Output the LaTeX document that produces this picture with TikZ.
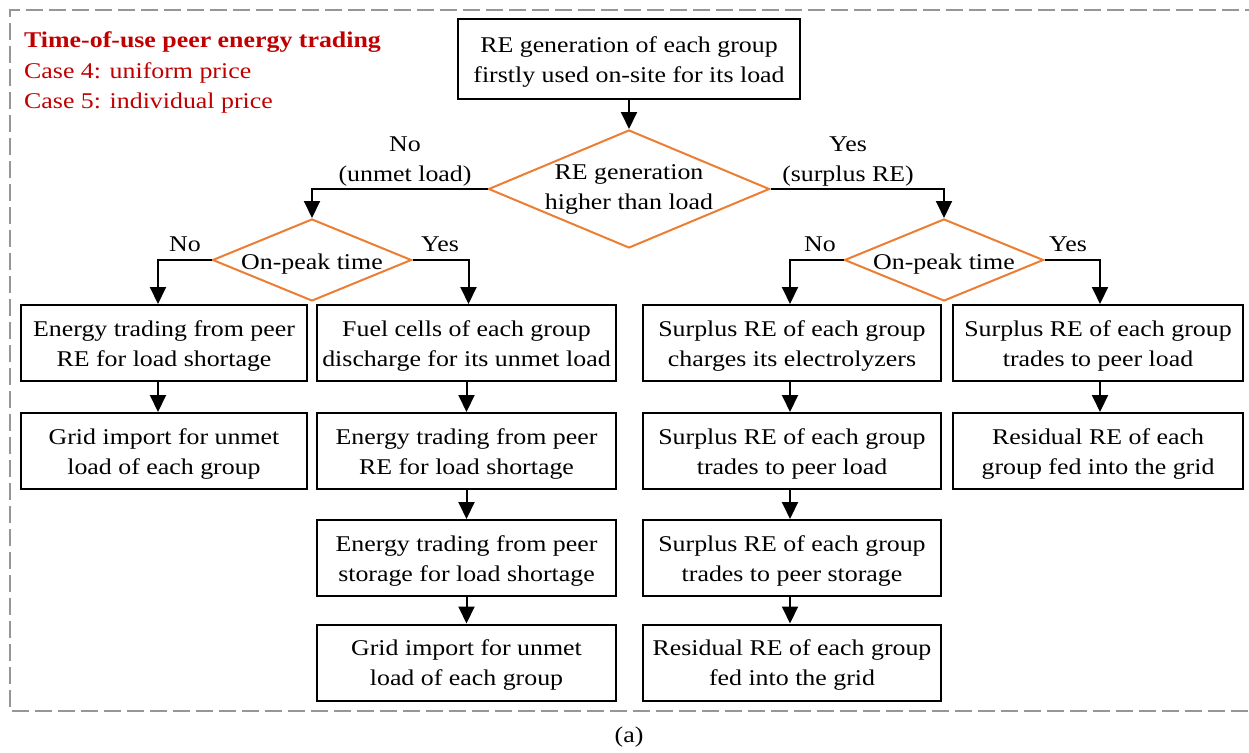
\documentclass[tikz,border=0pt]{standalone}
\usepackage{fontspec}
\setmainfont{Liberation Serif}[FakeStretch=1.15]
\usetikzlibrary{arrows.meta,shapes.geometric}
\definecolor{flowor}{HTML}{ED7D31}
\definecolor{capred}{HTML}{C00000}
\definecolor{framegray}{RGB}{150,150,150}
\newcommand\flowfont{\fontsize{22.5}{30}\selectfont}
\begin{document}
\begin{tikzpicture}[x=1pt,y=-1pt,
  every node/.style={font=\flowfont},
  proc/.style={draw=black, line width=2pt, rectangle, align=center, inner sep=0pt, minimum height=76pt,
    text height=52pt, text depth=6pt},
  colA/.style={proc, minimum width=286pt},
  colB/.style={proc, minimum width=299pt},
  colC/.style={proc, minimum width=298pt},
  colD/.style={proc, minimum width=290pt},
  dec/.style={draw=flowor, line width=2pt, diamond, inner sep=0pt, minimum width=199pt, minimum height=82pt},
  lbl/.style={inner sep=0pt, align=center},
  note/.style={inner sep=0pt, anchor=base west, text=capred},
  arr/.style={line width=2pt, -{Triangle[length=17pt,width=16pt]}},
]
\useasboundingbox (0,0) rectangle (1249,752);

% dashed frame, open at the right
\draw[framegray, line width=2pt, dash pattern=on 17pt off 6pt]
  (1262,10) -- (10,10) -- (10,711) -- (1262,711);

% legend
\node[note, font=\flowfont\bfseries] (t1) at (24,48) {Time-of-use peer energy trading};
\node[note] (t2) at (24,78) {Case 4: uniform price};
\node[note] (t3) at (24,108) {Case 5: individual price};

% start box and decisions
\node[proc, minimum width=342pt, minimum height=80pt] (top) at (629,59)
  {RE generation of each group\\firstly used on-site for its load};
\node[dec, minimum width=281pt, minimum height=118pt] (d1) at (629,189) {};
\node[lbl] (d1t) at (629,189) {RE generation\\higher than load};
\node[dec] (d2) at (312,260) {};
\node[lbl] (d2t) at (312,264) {On-peak time};
\node[dec] (d3) at (944,260) {};
\node[lbl] (d3t) at (944,264) {On-peak time};

% column 1: unmet load, off-peak
\node[colA] (b11) at (164,343) {Energy trading from peer\\RE for load shortage};
\node[colA] (b12) at (164,451) {Grid import for unmet\\load of each group};

% column 2: unmet load, on-peak
\node[colB] (b21) at (466.5,343) {Fuel cells of each group\\discharge for its unmet load};
\node[colB] (b22) at (466.5,451) {Energy trading from peer\\RE for load shortage};
\node[colB] (b23) at (466.5,558) {Energy trading from peer\\storage for load shortage};
\node[colB] (b24) at (466.5,662.5) {Grid import for unmet\\load of each group};

% column 3: surplus RE, off-peak
\node[colC] (b31) at (792,343) {Surplus RE of each group\\charges its electrolyzers};
\node[colC] (b32) at (792,451) {Surplus RE of each group\\trades to peer load};
\node[colC] (b33) at (792,558) {Surplus RE of each group\\trades to peer storage};
\node[colC] (b34) at (792,662.5) {Residual RE of each group\\fed into the grid};

% column 4: surplus RE, on-peak
\node[colD] (b41) at (1098,343) {Surplus RE of each group\\trades to peer load};
\node[colD] (b42) at (1098,451) {Residual RE of each\\group fed into the grid};

% branch labels
\node[lbl] (noA) at (405,162) {No\\(unmet load)};
\node[lbl] (yesA) at (848,162) {Yes\\(surplus RE)};
\node[lbl] (no2) at (185,244) {No};
\node[lbl] (yes2) at (440,244) {Yes};
\node[lbl] (no3) at (820,244) {No};
\node[lbl] (yes3) at (1068,244) {Yes};

% connectors
\draw[arr] (top.south) -- (d1.north);
\draw[arr] (d1.west) -| (d2.north);
\draw[arr] (d1.east) -| (d3.north);
\draw[arr] (d2.west) -| ([xshift=-6pt]b11.north);
\draw[arr] (d2.east) -| ([xshift=2pt]b21.north);
\draw[arr] (d3.west) -| ([xshift=-2pt]b31.north);
\draw[arr] (d3.east) -| ([xshift=2pt]b41.north);
\draw[arr] ([xshift=-6pt]b11.south) -- ([xshift=-6pt]b12.north);
\draw[arr] (b21) -- (b22);
\draw[arr] (b22) -- (b23);
\draw[arr] (b23) -- (b24);
\draw[arr] ([xshift=-2pt]b31.south) -- ([xshift=-2pt]b32.north);
\draw[arr] ([xshift=-2pt]b32.south) -- ([xshift=-2pt]b33.north);
\draw[arr] ([xshift=-2pt]b33.south) -- ([xshift=-2pt]b34.north);
\draw[arr] ([xshift=2pt]b41.south) -- ([xshift=2pt]b42.north);

% caption
\node[lbl] (cap) at (629,737) {(a)};
\end{tikzpicture}
\end{document}
